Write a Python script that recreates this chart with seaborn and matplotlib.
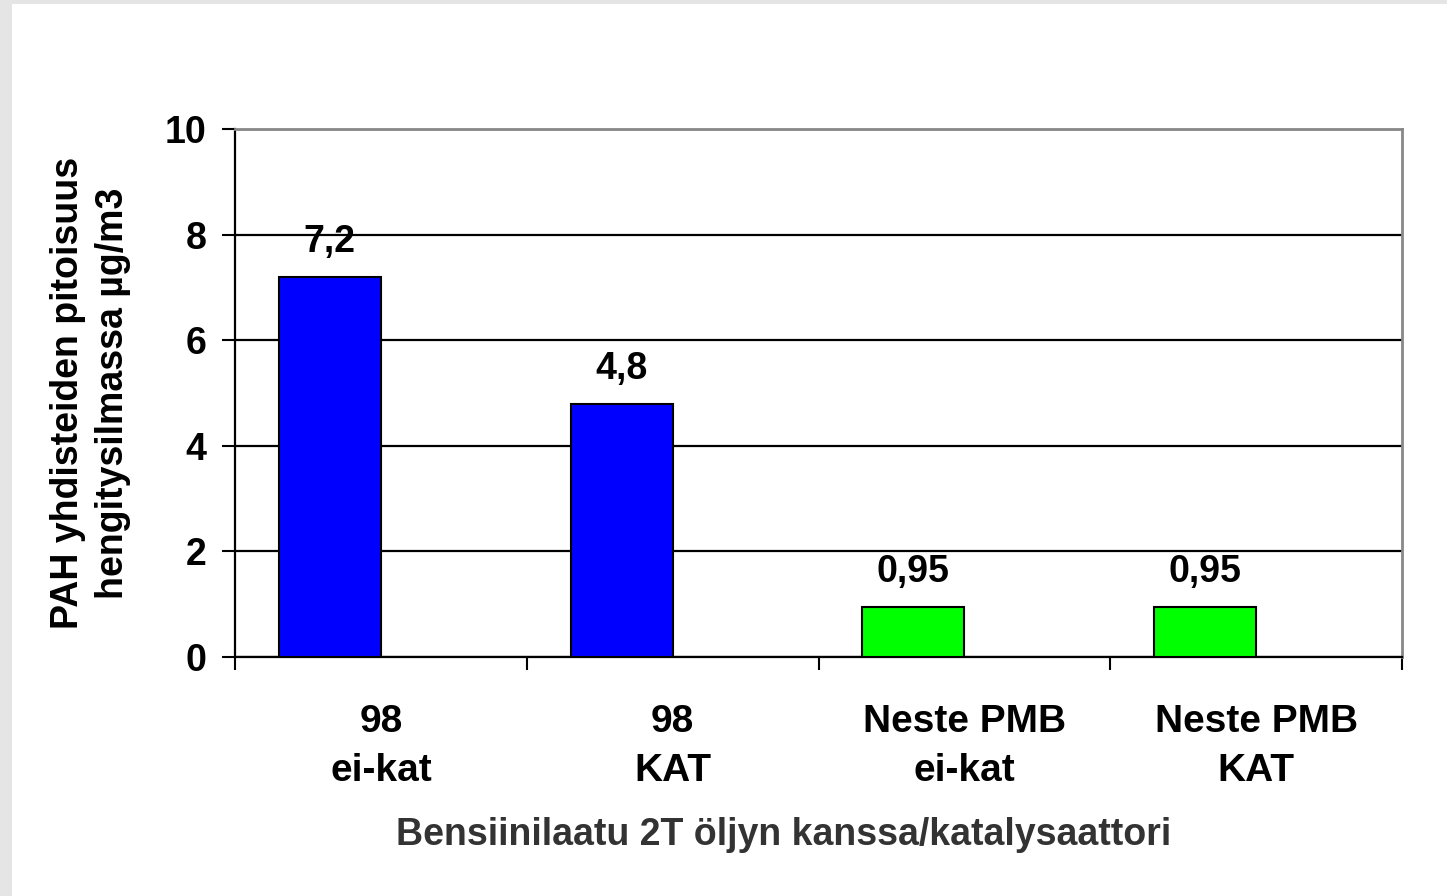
import numpy as np
import pandas as pd
import matplotlib.pyplot as plt
import seaborn as sns
from matplotlib.patches import Rectangle

# data
categories = ["98\nei-kat", "98\nKAT", "Neste PMB\nei-kat", "Neste PMB\nKAT"]
pah_values = [7.2, 4.8, 0.95, 0.95]
bar_colors = ["#0000FF", "#0000FF", "#00FF00", "#00FF00"]
y_ticks = [0, 2, 4, 6, 8, 10]

sns.set_style("white")
plt.rcParams["font.family"] = ["Liberation Sans", "DejaVu Sans"]
plt.rcParams["font.weight"] = "bold"
for key in ["text.color", "axes.labelcolor", "xtick.color", "ytick.color"]:
    plt.rcParams[key] = "black"

fig = plt.figure(figsize=(14.47, 8.96), dpi=100, facecolor="#e5e5e5")
# white slide area, grey strip left and top
fig.patches.append(Rectangle((12 / 1447, 0), 1, 1 - 4 / 896, transform=fig.transFigure,
                             facecolor="white", edgecolor="none", zorder=-5))
ax = fig.add_axes([235 / 1447, 239 / 896, 1167 / 1447, 528 / 896])
ax.set_zorder(1)

# bars sit left of slot centre (room kept for a second, empty series)
pos = np.arange(len(categories)) - 0.175
df = pd.DataFrame({"pos": pos, "value": pah_values, "cat": categories})
sns.barplot(data=df, x="pos", y="value", hue="cat", palette=bar_colors,
            native_scale=True, width=0.35, dodge=False, legend=False, saturation=1,
            edgecolor="black", linewidth=1.5, ax=ax, zorder=3)

val_labels = [f"{v:g}".replace(".", ",") for v in pah_values]
for cont, lab in zip(ax.containers, val_labels):
    ax.bar_label(cont, labels=[lab], padding=12, fontsize=27, fontweight="bold")

ax.set_xlim(-0.5, len(categories) - 0.5)
ax.set_xticks(range(len(categories)), categories)
ax.set_xticks(np.arange(len(categories) + 1) - 0.5, minor=True)
ax.tick_params(axis="x", which="major", length=0, pad=34, labelsize=28, bottom=True)
ax.tick_params(axis="x", which="minor", length=9.5, width=1.5, color="black",
               direction="out", bottom=True)
for lbl in ax.get_xticklabels():
    lbl.set_linespacing(1.45)

ax.set_ylim(0, 10)
ax.set_yticks(y_ticks)
ax.tick_params(axis="y", length=9.5, width=1.5, color="black", pad=11,
               labelsize=27, left=True)

ax.set_axisbelow(True)
ax.yaxis.grid(True, color="black", linewidth=1.6)
ax.xaxis.grid(False)

for side in ["left", "bottom"]:
    ax.spines[side].set_color("black")
    ax.spines[side].set_linewidth(1.6)
for side in ["top", "right"]:
    ax.spines[side].set_color("#888888")
    ax.spines[side].set_linewidth(2)

ax.set_ylabel("PAH yhdisteiden pitoisuus\nhengitysilmassa µg/m3", fontsize=27,
              fontweight="bold", labelpad=24, linespacing=1.35)
ax.set_xlabel("Bensiinilaatu 2T öljyn kanssa/katalysaattori", fontsize=27,
              fontweight="bold", color="#333333", labelpad=20)
# title of x axis sits a little left of the plot centre in the original
ax.xaxis.label.set_x(0.47)

fig.savefig("out.png", dpi=100, facecolor=fig.get_facecolor())
